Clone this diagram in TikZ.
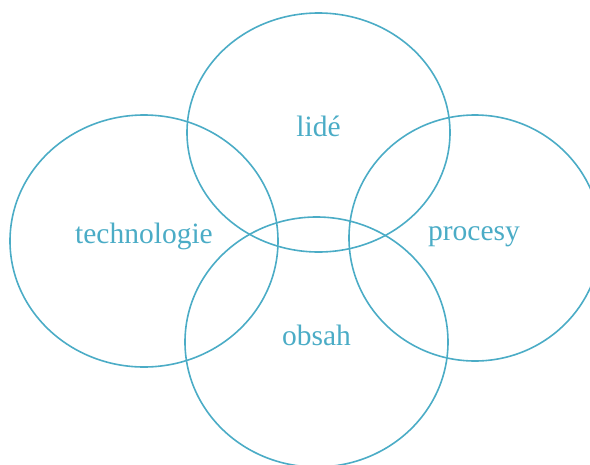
\documentclass[tikz,border=0pt]{standalone}
\usepackage{fontspec}
\setmainfont{Liberation Serif}
\usetikzlibrary{shapes.geometric}
\definecolor{kruh}{HTML}{4BACC6}

\begin{document}
\begin{tikzpicture}[x=1pt, y=-1pt]
		%%%%% START %%%%%
		
		\useasboundingbox (0, 0) rectangle (590, 464);
		\clip (0, 0) rectangle (590, 464);
		
		\tikzset{
			oblast/.style={draw=kruh, line width=1.6pt, ellipse, inner sep=0pt},
			popis/.style={text=kruh, font=\fontsize{29.5}{34}\selectfont, anchor=base}
		}
		
		\node[oblast, minimum width=263pt, minimum height=239pt] (lide) at (318.5, 132.5) {};
		\node[oblast, minimum width=268pt, minimum height=252pt] (technologie) at (144, 241) {};
		\node[oblast, minimum width=252pt, minimum height=246pt] (procesy) at (475, 238) {};
		\node[oblast, minimum width=263pt, minimum height=250pt] (obsah) at (316.5, 342) {};
		
		\node[popis] (t-lide) at ([yshift=-3.5pt]lide.center) {lidé};
		\node[popis] (t-technologie) at ([yshift=-2pt]technologie.center) {technologie};
		\node[popis] (t-procesy) at ([yshift=-2pt, xshift=-1pt]procesy.center) {procesy};
		\node[popis] (t-obsah) at ([yshift=-3pt]obsah.center) {obsah};
		
		%%%%% END %%%%%
	\end{tikzpicture}
\end{document}
